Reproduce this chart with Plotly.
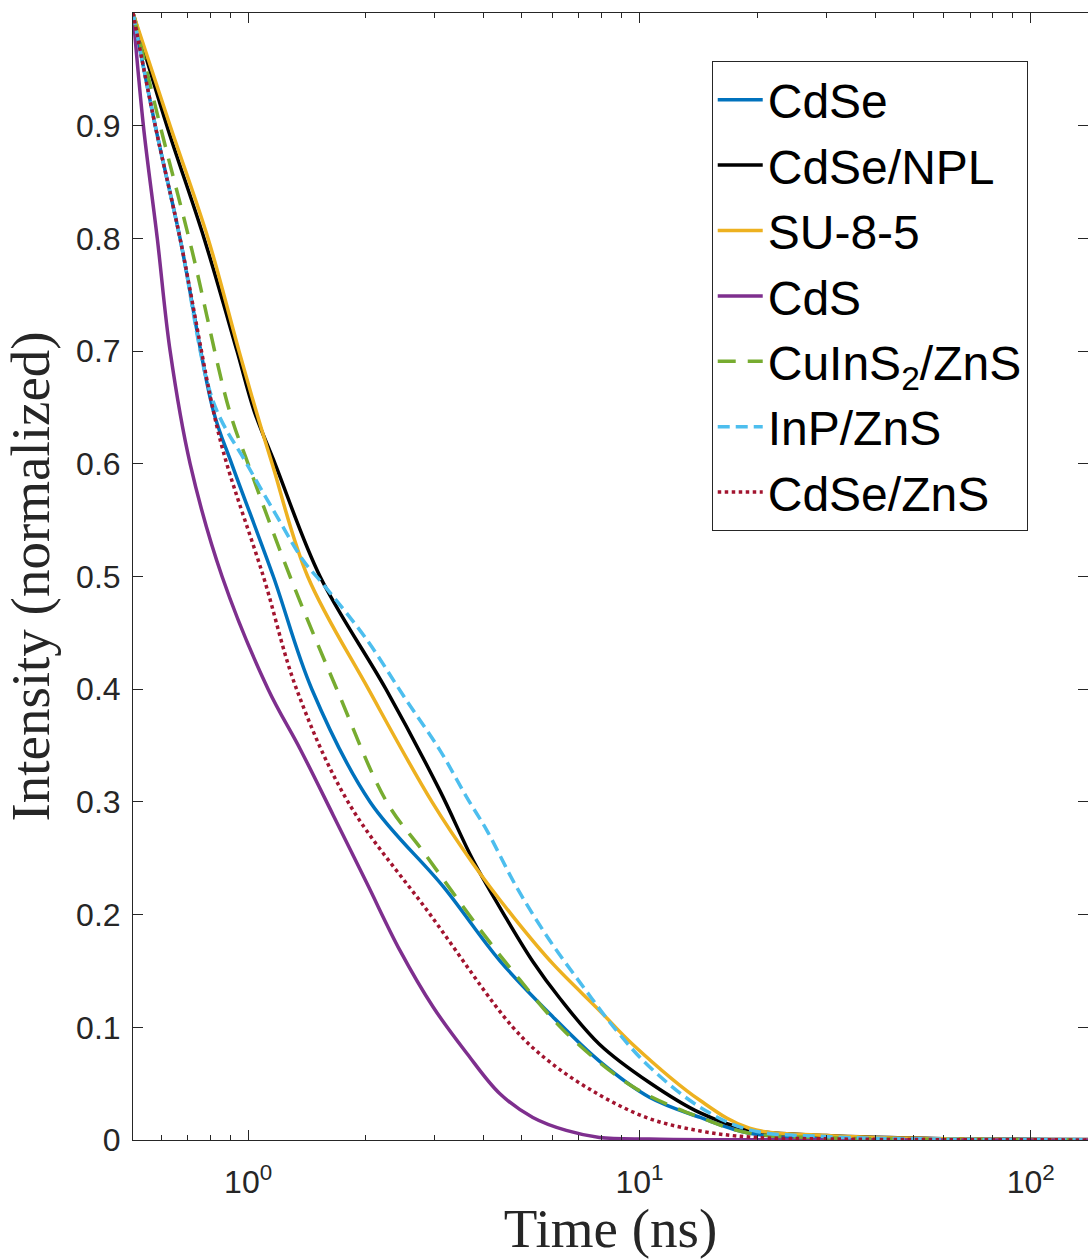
import plotly.graph_objects as go
import numpy as np

# Values (time in ns, normalized intensity)
t_cdse = [0.508, 0.579, 0.67, 0.815, 0.908, 1.16, 1.455, 2.05, 3.15, 4.40, 6.02, 7.9, 10.6, 14.3, 19.1, 30, 60, 150]
v_cdse = [1.0, 0.9, 0.8, 0.647, 0.6, 0.5, 0.4, 0.3, 0.225, 0.159, 0.109, 0.07, 0.038, 0.02, 0.006, 0.002, 0.0005, 0.0002]

t_npl = [0.508, 0.62, 0.772, 0.937, 1.036, 1.172, 1.527, 2.25, 3.09, 3.76, 4.58, 5.35, 6.25, 7.9, 10.6, 14.3, 19.1, 30, 60, 150]
v_npl = [1.0, 0.9, 0.8, 0.7, 0.647, 0.6, 0.5, 0.4, 0.31, 0.248, 0.196, 0.158, 0.126, 0.085, 0.051, 0.024, 0.009, 0.004, 0.0012, 0.0004]

t_su8 = [0.508, 0.632, 0.79, 0.948, 1.048, 1.152, 1.42, 2.03, 2.95, 3.76, 4.76, 6.02, 7.9, 9.6, 14.3, 19.1, 30, 60, 150]
v_su8 = [1.0, 0.9, 0.8, 0.7, 0.647, 0.6, 0.5, 0.4, 0.3, 0.245, 0.198, 0.156, 0.115, 0.085, 0.035, 0.0104, 0.004, 0.001, 0.0003]

t_cds = [0.508, 0.54, 0.586, 0.632, 0.711, 0.858, 1.125, 1.358, 1.651, 2.01, 2.445, 2.97, 3.62, 4.40, 5.34, 6.5, 7.9, 10.6, 15, 150]
v_cds = [1.0, 0.9, 0.8, 0.7, 0.6, 0.5, 0.4, 0.347, 0.288, 0.228, 0.168, 0.118, 0.077, 0.041, 0.020, 0.0085, 0.0023, 0.0008, 0.0002, 0.0]

t_cuins = [0.508, 0.596, 0.718, 0.896, 1.0, 1.28, 1.685, 2.26, 2.8, 3.91, 4.95, 6.5, 9.65, 14.3, 19.1, 30, 60, 150]
v_cuins = [1.0, 0.9, 0.79, 0.647, 0.6, 0.5, 0.4, 0.3, 0.256, 0.187, 0.142, 0.095, 0.047, 0.02, 0.006, 0.002, 0.0005, 0.0002]

t_inp = [0.508, 0.579, 0.67, 0.815, 0.992, 1.2, 1.385, 1.573, 2.0, 2.54, 3.09, 3.62, 4.07, 4.86, 5.9, 7.18, 8.74, 10.6, 14.3, 19.1, 30, 60, 150]
v_inp = [1.0, 0.9, 0.8, 0.655, 0.6, 0.55, 0.514, 0.491, 0.445, 0.39, 0.346, 0.304, 0.275, 0.224, 0.177, 0.136, 0.097, 0.065, 0.029, 0.009, 0.003, 0.0008, 0.0003]

t_zns = [0.508, 0.579, 0.67, 0.815, 0.882, 1.094, 1.33, 1.80, 2.92, 4.75, 5.91, 7.9, 10.6, 14.3, 19.1, 30, 60, 150]
v_zns = [1.0, 0.9, 0.8, 0.647, 0.6, 0.5, 0.4, 0.3, 0.2, 0.1, 0.069, 0.04, 0.019, 0.008, 0.0026, 0.001, 0.0003, 0.0001]

series_names = ["CdSe", "CdSe/NPL", "SU-8-5", "CdS", "CuInS<sub>2</sub>/ZnS", "InP/ZnS", "CdSe/ZnS"]
series_t = [t_cdse, t_npl, t_su8, t_cds, t_cuins, t_inp, t_zns]
series_v = [v_cdse, v_npl, v_su8, v_cds, v_cuins, v_inp, v_zns]
series_colors = ["#0072BD", "#000000", "#EDB120", "#7E2F8E", "#77AC30", "#4DBEEE", "#A2142F"]
series_dashes = ["solid", "solid", "solid", "solid", "18px,12px", "12px,6px", "3.5px,3.5px"]

y_tickvals = [0, 0.1, 0.2, 0.3, 0.4, 0.5, 0.6, 0.7, 0.8, 0.9]
y_ticktext = ["0", "0.1", "0.2", "0.3", "0.4", "0.5", "0.6", "0.7", "0.8", "0.9"]
x_tickvals = [1, 10, 100]
x_ticktext = ["10<sup>0</sup>", "10<sup>1</sup>", "10<sup>2</sup>"]
x_minorvals = [0.6, 0.7, 0.8, 0.9, 2, 3, 4, 5, 6, 7, 8, 9, 20, 30, 40, 50, 60, 70, 80, 90]

fig = go.Figure()
for name, tt, vv, col, dash in zip(series_names, series_t, series_v, series_colors, series_dashes):
    fig.add_trace(go.Scatter(
        x=tt, y=vv, mode="lines", name=name,
        line=dict(color=col, width=3.5, dash=dash, shape="spline", smoothing=1.0),
    ))

axis_col = "#262626"
fig.update_layout(
    width=1088, height=1259,
    margin=dict(l=133, r=0, t=13, b=119),
    paper_bgcolor="white", plot_bgcolor="white",
    showlegend=True,
    legend=dict(
        x=0.606, y=0.9574, xanchor="left", yanchor="top",
        bgcolor="white", bordercolor=axis_col, borderwidth=1,
        font=dict(family="Liberation Sans, Arial", size=48, color="black"),
        tracegroupgap=0, itemwidth=45,
    ),
    xaxis=dict(
        type="log", automargin=False,
        range=[np.log10(0.508), np.log10(140)],
        tickmode="array", tickvals=x_tickvals, ticktext=x_ticktext,
        ticks="inside", ticklen=10, tickwidth=1, tickcolor=axis_col,
        minor=dict(tickmode="array", tickvals=x_minorvals, ticks="inside",
                   ticklen=5, tickwidth=1, tickcolor=axis_col, showgrid=False),
        showline=True, linecolor=axis_col, linewidth=1, mirror="ticks",
        showgrid=False, zeroline=False,
        tickfont=dict(family="Liberation Sans, Arial", size=32, color=axis_col),
        ticklabelstandoff=14,
        title=dict(text="Time (ns)", standoff=6,
                   font=dict(family="Liberation Serif, Times New Roman", size=55, color=axis_col)),
    ),
    yaxis=dict(
        range=[0, 1], automargin=False,
        tickmode="array", tickvals=y_tickvals, ticktext=y_ticktext,
        ticks="inside", ticklen=10, tickwidth=1, tickcolor=axis_col,
        showline=True, linecolor=axis_col, linewidth=1, mirror="ticks",
        showgrid=False, zeroline=False,
        tickfont=dict(family="Liberation Sans, Arial", size=32, color=axis_col),
        ticklabelstandoff=5,
        title=dict(text="Intensity (normalized)", standoff=32,
                   font=dict(family="Liberation Serif, Times New Roman", size=55, color=axis_col)),
    ),
)

# remove the default 8px page margin so the figure fills the window exactly
fig.write_html("out.html", config={"displayModeBar": False},
               post_script="document.body.style.margin='0';")
